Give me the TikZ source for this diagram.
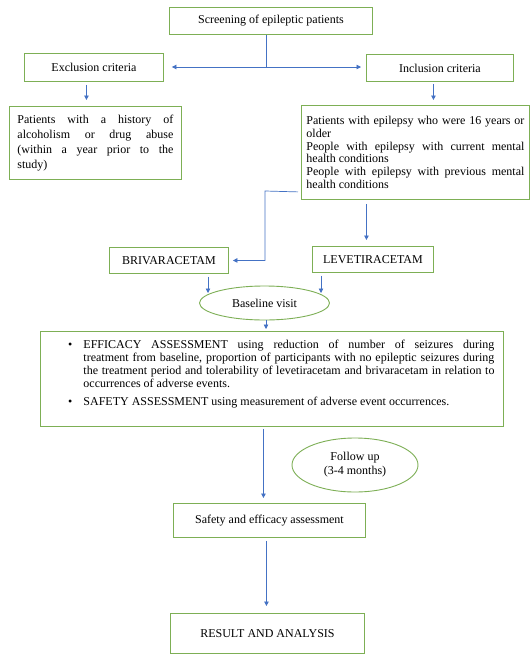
\documentclass[tikz,border=0pt]{standalone}
\usepackage{fontspec}
\setmainfont{Liberation Serif}
\usetikzlibrary{shapes.geometric,arrows.meta,calc}
\definecolor{boxgreen}{RGB}{125,175,85}
\definecolor{arrblue}{RGB}{68,114,196}
\begin{document}
\begin{tikzpicture}[x=1pt,y=-1pt,
  box/.style={draw=boxgreen,line width=0.9pt,rectangle,inner sep=0pt,anchor=north west,
    font=\fontsize{12}{13}\selectfont,align=center},
  oval/.style={draw=boxgreen,line width=0.9pt,ellipse,inner sep=0pt,
    font=\fontsize{12}{14}\selectfont,align=center},
  arr/.style={draw=arrblue,line width=0.7pt,-{Triangle[length=4.5pt,width=4.5pt]}},
  ln/.style={draw=arrblue,line width=0.7pt}]
\useasboundingbox (0,0) rectangle (532,654);
\fill[white] (0,0) rectangle (532,654);

% boxes
\node[box,minimum width=203pt,minimum height=27pt] (scr) at (169,7) {Screening of epileptic patients};
\node[box,minimum width=139pt,minimum height=28pt] (exc) at (24,53) {Exclusion criteria};
\node[box,minimum width=147pt,minimum height=27pt] (inc) at (366,54) {Inclusion criteria};

\node[box,align=justify,text width=156pt,inner xsep=8pt,minimum height=73pt,
  font=\fontsize{12}{15}\selectfont] (exctext) at (9,106)
  {Patients with a history of\linebreak alcoholism or drug abuse\linebreak (within a year prior to the\linebreak study)};

\node[box,align=justify,text width=218pt,inner xsep=5pt,minimum height=94pt,
  font=\fontsize{12}{12.8}\selectfont] (inctext) at (301,105)
  {Patients with epilepsy who were 16 years or\linebreak older\par
   People with epilepsy with current mental\linebreak health conditions\par
   People with epilepsy with previous mental\linebreak health conditions};

\node[box,minimum width=119pt,minimum height=26pt] (briv) at (109,247) {BRIVARACETAM};
\node[box,minimum width=121pt,minimum height=26pt] (leve) at (312,246) {LEVETIRACETAM};

\node[oval,minimum width=130pt,minimum height=34pt] (base) at (264.5,303) {Baseline visit};

\node[box,inner xsep=0pt,inner ysep=9pt] (eff) at (40,331)
  {\parbox[c][77pt][t]{463pt}{\fontsize{12}{13}\selectfont
   \setlength{\parindent}{0pt}\leftskip=43pt \rightskip=9pt
   \leavevmode\llap{\textbullet\hspace{11pt}}EFFICACY ASSESSMENT using reduction of number of seizures during\linebreak
   treatment from baseline, proportion of participants with no epileptic seizures during\linebreak
   the treatment period and tolerability of levetiracetam and brivaracetam in relation to\linebreak
   occurrences of adverse events.\par\vspace{5pt}
   \leavevmode\llap{\textbullet\hspace{11pt}}SAFETY ASSESSMENT using measurement of adverse event occurrences.\par}};

\node[oval,minimum width=126pt,minimum height=54pt] (follow) at (355,465) {Follow up\\(3-4 months)};

\node[box,minimum width=192pt,minimum height=34pt] (safety) at (173,503) {Safety and efficacy assessment};
\node[box,minimum width=194pt,minimum height=40pt] (result) at (170,613) {RESULT AND ANALYSIS};

% connectors
\coordinate (split) at (266,67);
\draw[ln] (scr.south -| split) -- (split);
\draw[arr] (split) -- ($(exc.east |- split)+(8,0)$);
\draw[arr] (split) -- ($(inc.west |- split)+(-5,0)$);

\draw[arr] ($(exc.south)+(-7.5,3)$) -- ($(exc.south |- exctext.north)+(-7.5,-6)$);
\draw[arr] ($(inc.south)+(-6.5,2)$) -- ($(inc.south |- inctext.north)+(-6.5,-5)$);

\coordinate (bend) at (265,191);
\draw[arr] ($(inctext.south west)+(-3,-8)$) -- (bend) |- ($(briv.east)+(4,0)$);
\draw[arr] ($(leve.north |- inctext.south)+(-6.5,4)$) -- ($(leve.north)+(-6.5,-6)$);

\draw[arr] ($(base.center |- briv.south)+(-56.5,3)$) -- ($(base.center)+(-56.5,-10)$);
\draw[arr] ($(base.center |- leve.south)+(56.5,3)$) -- ($(base.center)+(56.5,-10)$);

\draw[arr] ($(base.south)+(1.5,0)$) -- ($(base.south |- eff.north)+(1.5,-2)$);
\draw[arr] ($(safety.north |- eff.south)+(-6,2)$) -- ($(safety.north)+(-6,-5)$);
\draw[arr] ($(result.north |- safety.south)+(-1,3)$) -- ($(result.north)+(-1,-7)$);
\end{tikzpicture}
\end{document}
